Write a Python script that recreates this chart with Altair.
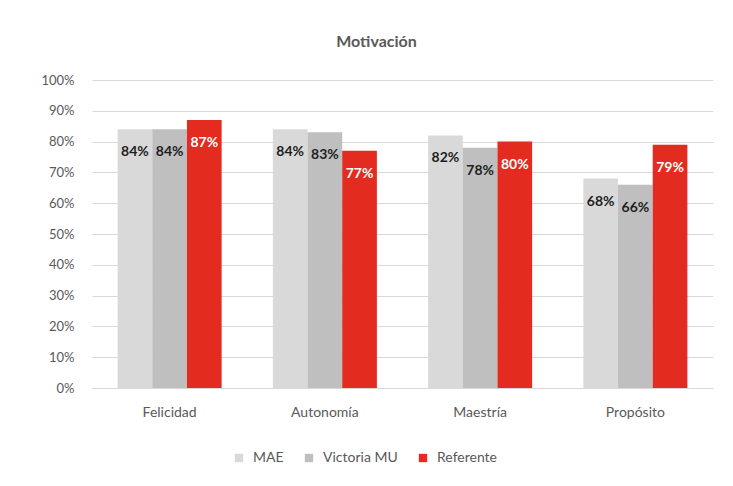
import altair as alt
import pandas as pd

categories = ["Felicidad", "Autonomía", "Maestría", "Propósito"]
series = ["MAE", "Victoria MU", "Referente"]
mae = [0.84, 0.84, 0.82, 0.68]
victoria = [0.84, 0.83, 0.78, 0.66]
referente = [0.87, 0.77, 0.80, 0.79]
colors = ["#d9d9d9", "#bfbfbf", "#e32b20"]

rows = []
for i, c in enumerate(categories):
    for s, vals in zip(series, [mae, victoria, referente]):
        rows.append({"category": c, "series": s, "value": vals[i]})
df = pd.DataFrame(rows)

FONT = "Lato"
GREY = "#595959"

base = alt.Chart(df).encode(
    x=alt.X("category:N", sort=categories, title=None,
            scale=alt.Scale(paddingInner=0.33, paddingOuter=0.165),
            axis=alt.Axis(labelAngle=0, labelFontSize=14, labelColor=GREY, labelFont=FONT,
                          labelPadding=17, ticks=False, grid=False, domainColor="#d9d9d9")),
    xOffset=alt.XOffset("series:N", sort=series),
    y=alt.Y("value:Q", title=None,
            scale=alt.Scale(domain=[0, 1]),
            axis=alt.Axis(format=".0%", values=[i / 10 for i in range(11)],
                          labelFontSize=13, labelColor=GREY, labelFont=FONT,
                          labelPadding=18, ticks=False, domain=False,
                          gridColor="#d9d9d9", gridWidth=1)),
)

bars = base.mark_bar().encode(
    color=alt.Color("series:N", sort=series, title=None,
                    scale=alt.Scale(domain=series, range=colors),
                    legend=alt.Legend(orient="none", legendX=140, legendY=371,
                                      direction="horizontal", symbolType="square",
                                      symbolSize=70, symbolStrokeWidth=0,
                                      labelFontSize=14, labelColor=GREY, labelFont=FONT,
                                      labelOffset=7, columnPadding=18))
)

labels = base.mark_text(baseline="middle", align="center", dy=23, fontSize=14,
                        fontWeight="bold", font=FONT).encode(
    text=alt.Text("value:Q", format=".0%"),
    color=alt.condition(alt.datum.series == "Referente", alt.value("white"), alt.value("#1e1e1e")),
)

chart = alt.layer(bars, labels).properties(
    width=621, height=308,
    padding={"left": 84, "top": 72, "right": 10, "bottom": 88},
    autosize=alt.AutoSizeParams(type="none"),
    view=alt.ViewBackground(stroke="transparent", strokeWidth=0),
    title=alt.Title("Motivación", font=FONT, fontSize=16, fontWeight="bold", color=GREY,
                    anchor="middle", dx=-26, offset=24),
).configure_view(strokeWidth=0, stroke="transparent").configure(background="white")

chart.save("out.html", embed_options={"renderer": "svg", "actions": False})
